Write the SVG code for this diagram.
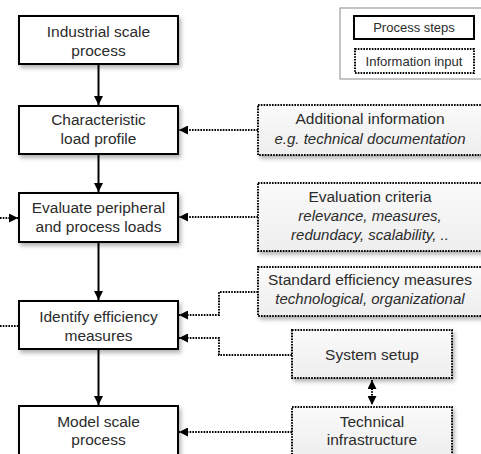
<svg xmlns="http://www.w3.org/2000/svg" width="481" height="454" viewBox="0 0 481 454">
<defs>
<filter id="sh" x="-10%" y="-10%" width="130%" height="140%">
<feDropShadow dx="2" dy="3" stdDeviation="2" flood-color="#000" flood-opacity="0.3"/>
</filter>
<linearGradient id="ig" x1="0" y1="0" x2="0" y2="1">
<stop offset="0" stop-color="#fafafa"/>
<stop offset="1" stop-color="#eeeeee"/>
</linearGradient>
<marker id="ah" viewBox="0 0 10 10" refX="10" refY="5" markerWidth="4.5" markerHeight="4.5" orient="auto-start-reverse" markerUnits="strokeWidth">
<path d="M0,0 L10,5 L0,10 z" fill="#000"/>
</marker>
</defs>
<style>
.proc{fill:#fff;stroke:#000;stroke-width:2;filter:url(#sh)}
.info{fill:url(#ig);stroke:#000;stroke-width:2;stroke-dasharray:1.6 1.2;filter:url(#sh)}
.t{font-family:"Liberation Sans",Arial,sans-serif;font-size:15.5px;fill:#2b2b2b;text-anchor:middle}
.ti{font-family:"Liberation Sans",Arial,sans-serif;font-size:15px;fill:#2b2b2b;text-anchor:middle;font-style:italic}
.lt{font-family:"Liberation Sans",Arial,sans-serif;font-size:13px;fill:#2b2b2b;text-anchor:middle}
.solid{fill:none;stroke:#000;stroke-width:2}
.dot{fill:none;stroke:#000;stroke-width:2;stroke-dasharray:1.6 1.2}
</style>
<g id="legend">
<rect x="340" y="8" width="145" height="71" fill="#fff" stroke="#8a8a8a" stroke-width="1"/>
<rect x="354" y="16" width="120" height="23" fill="#fff" stroke="#000" stroke-width="2"/>
<text class="lt" x="414" y="32">Process steps</text>
<rect x="355" y="49" width="119" height="24" fill="#fff" stroke="#000" stroke-width="2" stroke-dasharray="1.6 1.2"/>
<text class="lt" x="414" y="66">Information input</text>
</g>
<g id="connectors">
<line class="solid" x1="98.5" y1="65" x2="98.5" y2="105" marker-end="url(#ah)"/>
<line class="solid" x1="98.5" y1="155" x2="98.5" y2="192" marker-end="url(#ah)"/>
<line class="solid" x1="98.5" y1="243" x2="98.5" y2="300" marker-end="url(#ah)"/>
<line class="solid" x1="98.5" y1="350" x2="98.5" y2="405" marker-end="url(#ah)"/>
<line class="dot" x1="258" y1="130" x2="179" y2="130" marker-end="url(#ah)"/>
<line class="dot" x1="258" y1="217" x2="179" y2="217" marker-end="url(#ah)"/>
<line class="dot" x1="0" y1="218" x2="18" y2="218" marker-end="url(#ah)"/>
<line class="dot" x1="0" y1="326" x2="19" y2="326"/>
<polyline class="dot" points="258,292 219,292 219,315 179,315" marker-end="url(#ah)"/>
<polyline class="dot" points="292,355 219,355 219,338 179,338" marker-end="url(#ah)"/>
<line class="dot" x1="292" y1="432" x2="179" y2="432" marker-end="url(#ah)"/>
<line class="dot" x1="372" y1="380" x2="372" y2="405" marker-start="url(#ah)" marker-end="url(#ah)"/>
</g>
<g id="n1">
<rect class="proc" x="19" y="16" width="159" height="48"/>
<text class="t" x="98.5" y="37">Industrial scale</text>
<text class="t" x="98.5" y="56">process</text>
</g>
<g id="n2">
<rect class="proc" x="19" y="106" width="159" height="48"/>
<text class="t" x="98.5" y="125">Characteristic</text>
<text class="t" x="98.5" y="144">load profile</text>
</g>
<g id="n3">
<rect class="proc" x="19" y="193" width="159" height="49"/>
<text class="t" x="98.5" y="213">Evaluate peripheral</text>
<text class="t" x="98.5" y="232">and process loads</text>
</g>
<g id="n4">
<rect class="proc" x="19" y="301" width="159" height="48"/>
<text class="t" x="98.5" y="322">Identify efficiency</text>
<text class="t" x="98.5" y="341">measures</text>
</g>
<g id="n5">
<rect class="proc" x="19" y="406" width="159" height="50"/>
<text class="t" x="98.5" y="427">Model scale</text>
<text class="t" x="98.5" y="445">process</text>
</g>
<g id="i1">
<rect class="info" x="258" y="105" width="227" height="50"/>
<text class="t" x="370" y="124">Additional information</text>
<text class="ti" x="370" y="144">e.g. technical documentation</text>
</g>
<g id="i2">
<rect class="info" x="258" y="183" width="227" height="68"/>
<text class="t" x="370" y="202">Evaluation criteria</text>
<text class="ti" x="370" y="221">relevance, measures,</text>
<text class="ti" x="370" y="240">redundacy, scalability, ..</text>
</g>
<g id="i3">
<rect class="info" x="258" y="267" width="227" height="49"/>
<text class="t" x="370" y="285">Standard efficiency measures</text>
<text class="ti" x="370" y="304">technological, organizational</text>
</g>
<g id="i4">
<rect class="info" x="292" y="330" width="160" height="48"/>
<text class="t" x="372" y="360">System setup</text>
</g>
<g id="i5">
<rect class="info" x="292" y="407" width="160" height="50"/>
<text class="t" x="372" y="427">Technical</text>
<text class="t" x="372" y="445">infrastructure</text>
</g>
</svg>
